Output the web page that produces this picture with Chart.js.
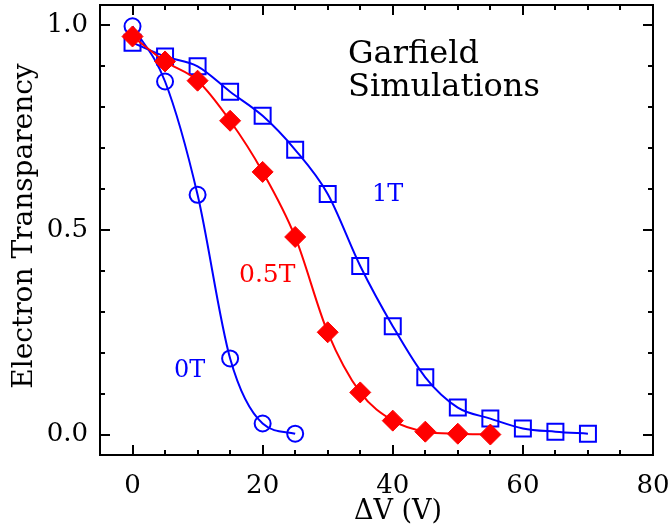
<!DOCTYPE html>
<html>
<head>
<meta charset="utf-8">
<script src="https://cdn.jsdelivr.net/npm/chart.js@4/dist/chart.umd.min.js"></script>
<style>
  html, body { margin: 0; padding: 0; background: #fff; }
  #wrap { width: 670px; height: 527px; }
</style>
</head>
<body>
<div id="wrap"><canvas id="chart" width="670" height="527"></canvas></div>
<script>
// values
const volts0 = [0, 5, 10, 15, 20, 25];
const trans0T = [0.998, 0.863, 0.586, 0.186, 0.027, 0.002];
const volts05 = [0, 5, 10, 15, 20, 25, 30, 35, 40, 45, 50, 55];
const trans05T = [0.973, 0.912, 0.865, 0.767, 0.642, 0.483, 0.250, 0.103, 0.034, 0.007, 0.002, 0.0];
const volts1 = [0, 5, 10, 15, 20, 25, 30, 35, 40, 45, 50, 55, 60, 65, 70];
const trans1T = [0.958, 0.924, 0.900, 0.838, 0.779, 0.696, 0.588, 0.412, 0.265, 0.140, 0.066, 0.039, 0.015, 0.007, 0.002];

const xTicks = [0, 20, 40, 60, 80];
const xMinor = [-5, 5, 10, 15, 25, 30, 35, 45, 50, 55, 65, 70, 75];
const yTicks = [0.0, 0.5, 1.0];
const yMinor = [0.1, 0.2, 0.3, 0.4, 0.6, 0.7, 0.8, 0.9];

const BLUE = '#0000ff';
const RED = '#ff0000';
const SERIF = '"DejaVu Serif", serif';

const pts = (xs, ys) => xs.map((x, i) => ({ x: x, y: ys[i] }));

// frame, inward ticks on all four sides, and the free text
const decor = {
  id: 'decor',
  afterDraw(chart) {
    const ctx = chart.ctx;
    const a = chart.chartArea;
    const xs = chart.scales.x, ys = chart.scales.y;
    ctx.save();
    ctx.strokeStyle = '#000';
    ctx.lineWidth = 2;
    ctx.strokeRect(a.left, a.top, a.right - a.left, a.bottom - a.top);
    ctx.beginPath();
    const xt = (v, len) => {
      const p = Math.round(xs.getPixelForValue(v));
      ctx.moveTo(p, a.bottom); ctx.lineTo(p, a.bottom - len);
      ctx.moveTo(p, a.top); ctx.lineTo(p, a.top + len);
    };
    const yt = (v, len) => {
      const p = Math.round(ys.getPixelForValue(v));
      ctx.moveTo(a.left, p); ctx.lineTo(a.left + len, p);
      ctx.moveTo(a.right, p); ctx.lineTo(a.right - len, p);
    };
    xTicks.forEach(v => xt(v, 10));
    xMinor.forEach(v => xt(v, 5));
    yTicks.forEach(v => yt(v, 10));
    yMinor.forEach(v => yt(v, 5));
    ctx.stroke();

    ctx.textBaseline = 'alphabetic';
    ctx.textAlign = 'left';
    ctx.fillStyle = '#000';
    ctx.font = '32px ' + SERIF;
    ctx.fillText('Garfield', 348, 63);
    ctx.fillText('Simulations', 348, 96);

    ctx.font = '24px ' + SERIF;
    ctx.fillStyle = BLUE;
    ctx.fillText('1T', 372, 201);
    ctx.fillText('0T', 174, 377);
    ctx.fillStyle = RED;
    ctx.font = '25px ' + SERIF;
    ctx.fillText('0.5T', 239, 282);

    ctx.fillStyle = '#000';
    ctx.font = '27px ' + SERIF;
    ctx.textAlign = 'center';
    ctx.fillText('ΔV (V)', 398, 519);
    ctx.font = '28px ' + SERIF;
    ctx.translate(32, 226);
    ctx.rotate(-Math.PI / 2);
    ctx.fillText('Electron Transparency', 0, 0);
    ctx.restore();
  }
};

new Chart(document.getElementById('chart').getContext('2d'), {
  type: 'scatter',
  data: {
    datasets: [
      {
        label: '0.5T',
        data: pts(volts05, trans05T),
        showLine: true,
        borderColor: RED,
        backgroundColor: RED,
        borderWidth: 2,
        pointStyle: 'rectRot',
        pointRadius: 10.5,
        pointBorderWidth: 1,
        cubicInterpolationMode: 'monotone'
      },
      {
        label: '0T',
        data: pts(volts0, trans0T),
        showLine: true,
        borderColor: BLUE,
        backgroundColor: 'rgba(0,0,0,0)',
        borderWidth: 2,
        pointStyle: 'circle',
        pointRadius: 8,
        pointBorderWidth: 2,
        cubicInterpolationMode: 'monotone'
      },
      {
        label: '1T',
        data: pts(volts1, trans1T),
        showLine: true,
        borderColor: BLUE,
        backgroundColor: 'rgba(0,0,0,0)',
        borderWidth: 2,
        pointStyle: 'rect',
        pointRadius: 11.3,
        pointBorderWidth: 2,
        cubicInterpolationMode: 'monotone'
      }
    ]
  },
  options: {
    responsive: false,
    animation: false,
    layout: { autoPadding: false, padding: { top: 5, right: 17, left: 0, bottom: 0 } },
    plugins: { legend: { display: false }, tooltip: { enabled: false } },
    scales: {
      x: {
        type: 'linear',
        min: -5, max: 80,
        grid: { display: false, drawTicks: false },
        border: { display: false },
        afterBuildTicks: s => { s.ticks = xTicks.map(v => ({ value: v })); },
        afterFit: s => { s.height = 72; s.paddingLeft = 0; s.paddingRight = 0; },
        ticks: { color: '#000', padding: 16, font: { family: SERIF, size: 26 }, maxRotation: 0 }
      },
      y: {
        type: 'linear',
        min: -0.05, max: 1.05,
        grid: { display: false, drawTicks: false },
        border: { display: false },
        afterBuildTicks: s => { s.ticks = yTicks.map(v => ({ value: v })); },
        afterFit: s => { s.width = 100; s.paddingTop = 0; s.paddingBottom = 0; },
        ticks: {
          color: '#000', padding: 12, font: { family: SERIF, size: 26 },
          callback: v => v.toFixed(1)
        }
      }
    }
  },
  plugins: [decor]
});
</script>
</body>
</html>
